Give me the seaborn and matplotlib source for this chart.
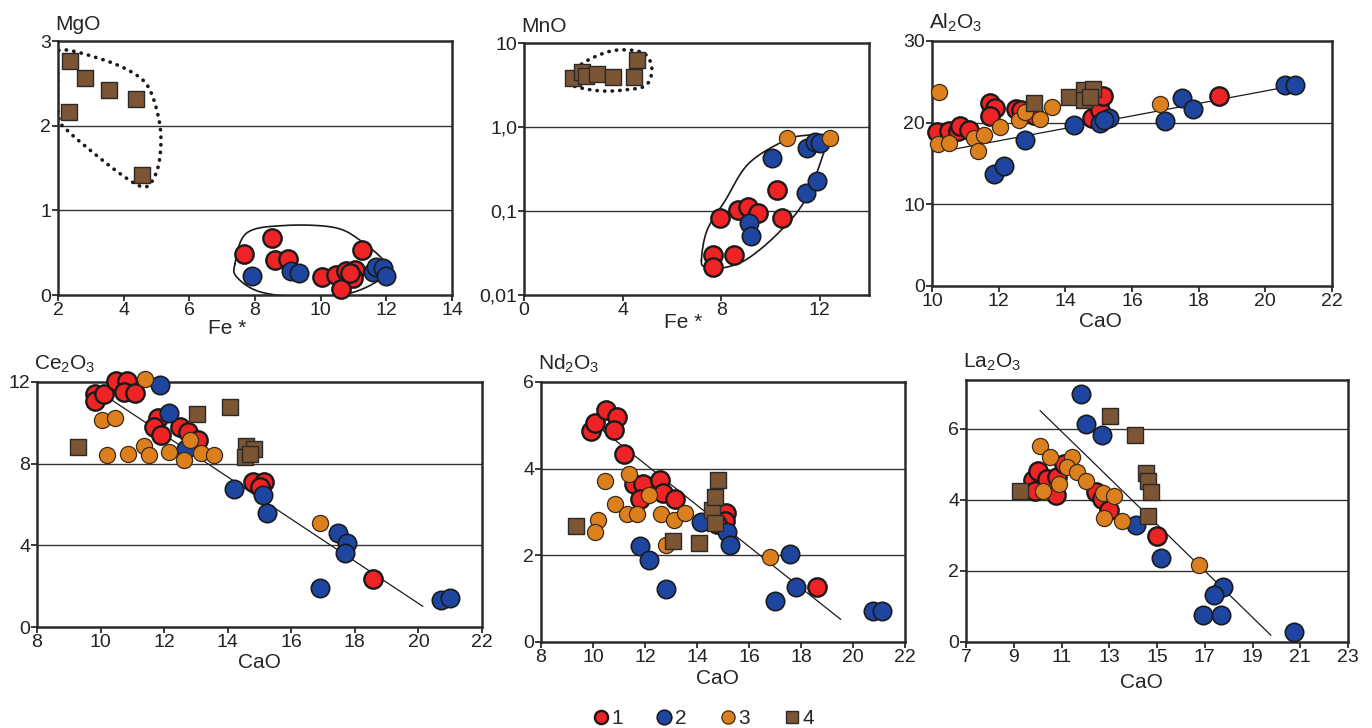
import numpy as np
import pandas as pd
import matplotlib
matplotlib.use('Agg')
import matplotlib.pyplot as plt
from matplotlib.lines import Line2D
from matplotlib.ticker import NullLocator
import seaborn as sns

# ---- data: (x, y) per group ----
# MgO vs Fe*
mgo_g1 = [(7.67, 0.48), (8.51, 0.67), (8.61, 0.41), (9.01, 0.43), (10.03, 0.21), (10.46, 0.24),
          (10.78, 0.28), (11.04, 0.30), (11.0, 0.20), (10.63, 0.07), (11.26, 0.53), (10.9, 0.26)]
mgo_g2 = [(7.9, 0.23), (9.1, 0.28), (9.33, 0.26), (11.58, 0.27), (11.7, 0.33), (11.9, 0.32), (11.98, 0.23)]
mgo_g3 = []
mgo_g4 = [(2.36, 2.76), (2.82, 2.56), (3.56, 2.42), (4.38, 2.32), (2.32, 2.16), (4.55, 1.42)]
mgo_env_dot = [(2.02, 2.89), (3.29, 2.79), (4.3, 2.62), (4.8, 2.42), (5.11, 1.99), (5.09, 1.59), (4.86, 1.34),
               (4.55, 1.28), (3.9, 1.43), (2.98, 1.71), (2.27, 1.95), (2.02, 2.1), (2.0, 2.6)]
mgo_env_solid = [(7.39, 0.37), (7.74, 0.73), (8.86, 0.82), (10.38, 0.80), (11.19, 0.65), (12.0, 0.37),
                 (11.9, 0.21), (10.88, 0.02), (9.37, -0.02), (8.13, 0.04), (7.45, 0.21)]

# MnO vs Fe* (log)
mno_g1 = [(7.97, 0.083), (7.66, 0.030), (7.66, 0.0215), (8.51, 0.030), (8.68, 0.104), (9.11, 0.112),
          (9.48, 0.095), (10.26, 0.176), (10.46, 0.083)]
mno_g2 = [(9.14, 0.072), (9.22, 0.050), (10.08, 0.43), (11.44, 0.166), (11.91, 0.225), (11.5, 0.57),
          (11.8, 0.66), (12.0, 0.64)]
mno_g3 = [(10.66, 0.746), (12.4, 0.746)]
mno_g4 = [(1.99, 3.87), (2.37, 4.5), (2.5, 4.0), (2.97, 4.3), (3.6, 3.9), (4.48, 3.9), (4.58, 6.3)]
mno_env_dot = [(1.79, 3.43), (2.26, 5.4), (3.2, 7.5), (4.0, 8.3), (4.88, 7.5), (5.19, 4.95), (4.95, 3.13),
               (4.14, 2.78), (3.2, 2.68), (2.26, 2.94)]
mno_env_solid = [(7.2, 0.026), (7.43, 0.059), (8.17, 0.134), (9.11, 0.366), (10.59, 0.69), (11.53, 0.80),
                 (12.27, 0.76), (12.2, 0.53), (11.4, 0.134), (10.3, 0.054), (8.98, 0.026), (7.9, 0.0206),
                 (7.36, 0.0215)]

# Al2O3 vs CaO
al_g1 = [(10.15, 18.87), (10.5, 18.96), (10.77, 18.96), (10.85, 19.6), (11.1, 19.08), (11.75, 22.46),
         (11.9, 21.85), (11.73, 20.79), (12.52, 21.73), (12.67, 21.6), (13.0, 21.2), (13.05, 20.9),
         (14.8, 20.63), (15.05, 21.5), (15.13, 23.24), (18.6, 23.24)]
al_g2 = [(11.85, 13.7), (12.15, 14.72), (12.8, 17.86), (14.25, 19.77), (15.05, 20.0), (15.3, 20.63),
         (15.15, 20.3), (16.98, 20.18), (17.5, 23.03), (17.82, 21.73), (20.6, 24.58), (20.88, 24.66)]
al_g3 = [(10.2, 23.77), (10.17, 17.33), (10.5, 17.57), (11.27, 18.18), (11.55, 18.47), (11.38, 16.55),
         (12.05, 19.49), (12.6, 20.3), (12.8, 21.32), (13.23, 20.5), (13.6, 21.93), (16.83, 22.26)]
al_g4 = [(13.07, 22.42), (14.1, 23.15), (14.55, 23.97), (14.82, 24.09), (14.57, 22.83), (14.73, 23.15)]
al_trend = [(10.6, 16.71), (20.55, 24.3)]

# Ce2O3 vs CaO
ce_g1 = [(9.81, 11.43), (9.83, 11.07), (10.12, 11.43), (10.5, 12.03), (10.83, 12.05), (10.74, 11.51),
         (11.09, 11.46), (11.8, 10.24), (11.67, 9.8), (11.91, 9.39), (12.49, 9.8), (12.75, 9.55),
         (13.05, 9.14), (14.8, 7.1), (15.13, 7.1), (15.03, 6.86), (18.56, 2.33)]
ce_g2 = [(11.88, 11.84), (12.14, 10.48), (12.69, 8.73), (14.21, 6.78), (15.11, 6.48), (15.24, 5.58),
         (17.47, 4.62), (17.75, 4.11), (17.7, 3.62), (16.91, 1.93), (20.71, 1.31), (21.0, 1.42)]
ce_g3 = [(11.39, 12.16), (10.04, 10.16), (10.44, 10.24), (10.2, 8.41), (10.86, 8.49), (11.36, 8.87),
         (11.51, 8.41), (12.14, 8.57), (12.64, 8.2), (12.8, 9.18), (13.17, 8.52), (13.58, 8.41), (16.89, 5.09)]
ce_g4 = [(9.28, 8.82), (13.03, 10.42), (14.08, 10.78), (14.59, 8.85), (14.82, 8.73), (14.55, 8.33), (14.69, 8.49)]
ce_trend = [(10.29, 11.18), (20.14, 1.01)]

# Nd2O3 vs CaO
nd_g1 = [(9.93, 4.87), (10.09, 5.05), (10.51, 5.35), (10.92, 5.19), (10.79, 4.9), (11.18, 4.33),
         (11.59, 3.65), (11.92, 3.64), (11.79, 3.29), (12.59, 3.73), (12.69, 3.45), (13.14, 3.29),
         (15.12, 2.98), (15.08, 2.79), (14.76, 2.73), (18.63, 1.28)]
nd_g2 = [(11.82, 2.22), (12.14, 1.9), (12.8, 1.22), (14.15, 2.78), (15.17, 2.55), (15.28, 2.25),
         (17.56, 2.04), (17.0, 0.95), (17.81, 1.27), (20.76, 0.71), (21.1, 0.71)]
nd_g3 = [(10.47, 3.72), (11.39, 3.87), (12.16, 3.4), (10.86, 3.18), (11.3, 2.95), (11.69, 2.96),
         (12.61, 2.96), (13.1, 2.81), (13.55, 2.98), (10.19, 2.82), (10.09, 2.55), (12.8, 2.25), (16.81, 1.96)]
nd_g4 = [(9.36, 2.67), (13.07, 2.32), (14.08, 2.29), (14.57, 3.05), (14.7, 3.35), (14.8, 3.75), (14.7, 2.75)]
nd_trend = [(10.34, 4.9), (19.53, 0.52)]

# La2O3 vs CaO
la_g1 = [(9.79, 4.56), (10.0, 4.81), (9.89, 4.25), (10.38, 4.58), (10.8, 4.63), (10.76, 4.14),
         (11.11, 5.0), (12.44, 4.21), (12.69, 4.02), (13.0, 3.71), (15.02, 2.99)]
la_g2 = [(11.81, 6.98), (12.02, 6.12), (12.7, 5.81), (14.11, 3.29), (15.16, 2.36), (17.75, 1.54),
         (17.37, 1.31), (16.91, 0.75), (17.68, 0.75), (20.75, 0.27)]
la_g3 = [(10.1, 5.51), (10.52, 5.21), (11.43, 5.19), (11.22, 4.91), (11.64, 4.79), (12.02, 4.53),
         (10.9, 4.44), (10.24, 4.25), (12.73, 4.19), (13.2, 4.11), (12.76, 3.5), (13.53, 3.41), (16.74, 2.17)]
la_g4 = [(13.04, 6.36), (14.06, 5.82), (14.53, 4.75), (14.62, 4.53), (14.74, 4.22), (14.62, 3.55), (9.26, 4.25)]
la_trend = [(10.1, 6.51), (19.77, 0.19)]

group_names = ['1', '2', '3', '4']
group_colors = ['#ee2326', '#1e46a0', '#dc7f1e', '#7c5535']
group_markers = ['o', 'o', 'o', 's']
group_sizes = [175, 175, 135, 125]
group_lw = [1.7, 1.2, 0.9, 1.0]
group_edge = ['#1a1a1a', '#1a1a1a', '#3a2a18', '#2a2a2a']


def closed_curve(pts, logy=False, k=24):
    p = np.array(pts, dtype=float)
    if logy:
        p[:, 1] = np.log10(p[:, 1])
    n = len(p)
    t = np.linspace(0, 1, k, endpoint=False)[:, None]
    out = []
    for i in range(n):
        p0, p1, p2, p3 = p[i - 1], p[i], p[(i + 1) % n], p[(i + 2) % n]
        out.append(0.5 * (2 * p1 + (-p0 + p2) * t + (2 * p0 - 5 * p1 + 4 * p2 - p3) * t ** 2
                          + (-p0 + 3 * p1 - 3 * p2 + p3) * t ** 3))
    out = np.vstack(out + [p[:1]])
    if logy:
        out[:, 1] = 10 ** out[:, 1]
    return out[:, 0], out[:, 1]


def draw_panel(ax, groups, xlim, ylim, xticks, yticks, grid, ylab, xlab, xlab_pos,
               ylabels=None, log=False):
    if log:
        ax.set_yscale('log')
    for y in grid:
        ax.axhline(y, color='#333333', lw=1.0, zorder=1)
    for i, pts in enumerate(groups):
        if not pts:
            continue
        df = pd.DataFrame(pts, columns=['x', 'y'])
        df['group'] = group_names[i]
        sns.scatterplot(data=df, x='x', y='y', ax=ax, color=group_colors[i], marker=group_markers[i],
                        s=group_sizes[i], edgecolor=group_edge[i], linewidth=group_lw[i],
                        legend=False, zorder=3 + i, clip_on=False)
    ax.set_xlim(*xlim)
    ax.set_ylim(*ylim)
    ax.set_xticks(xticks)
    ax.set_yticks(yticks)
    if log:
        ax.yaxis.set_minor_locator(NullLocator())
    if ylabels is not None:
        ax.set_yticklabels(ylabels)
    ax.set_xlabel(xlab, fontsize=15)
    ax.xaxis.label.set_va('center')
    # label position: (x fraction of axes, pixels below the axes)
    h_px = ax.get_position().height * H
    ax.xaxis.set_label_coords(xlab_pos[0], -xlab_pos[1] / h_px)
    ax.set_ylabel('')
    ax.annotate(ylab, xy=(0, 1), xycoords='axes fraction', xytext=(-2, 5), textcoords='offset points',
                ha='left', va='bottom', fontsize=15)
    for s in ax.spines.values():
        s.set_visible(True)
        s.set_color('#2a2a2a')
        s.set_linewidth(1.8)
    ax.tick_params(direction='out', length=4, width=1.3, labelsize=14, pad=1,
                   top=False, right=False, colors='#2a2a2a', labelcolor='#222222')


sns.set_style('ticks')
plt.rcParams['font.family'] = ['Liberation Sans', 'DejaVu Sans']
plt.rcParams['mathtext.fontset'] = 'custom'
plt.rcParams['mathtext.rm'] = 'Liberation Sans'
plt.rcParams['mathtext.it'] = 'Liberation Sans:italic'
plt.rcParams['mathtext.default'] = 'regular'

W, H = 1372, 728
fig = plt.figure(figsize=(W / 100, H / 100), dpi=100)


def px_axes(l, r, t, b):
    return fig.add_axes([l / W, 1 - b / H, (r - l) / W, (b - t) / H])


ax1 = px_axes(58, 452, 41, 295)
ax2 = px_axes(524, 869, 43, 295)
ax3 = px_axes(932, 1332, 41, 286)
ax4 = px_axes(37, 482, 382, 627)
ax5 = px_axes(541, 905, 382, 642)
ax6 = px_axes(966, 1348, 380, 642)

# MgO
draw_panel(ax1, [mgo_g1, mgo_g2, mgo_g3, mgo_g4], (2, 14), (0, 3), range(2, 15, 2), [0, 1, 2, 3],
           [1, 2], 'MgO', 'Fe *', (0.43, 33))
ex, ey = closed_curve(mgo_env_dot)
ax1.plot(ex, ey, color='#1a1a1a', lw=2.6, linestyle=(0, (0.1, 2.0)), dash_capstyle='round', zorder=2)
ex, ey = closed_curve(mgo_env_solid)
ax1.plot(ex, ey, color='#1a1a1a', lw=1.2, zorder=2)

# MnO
draw_panel(ax2, [mno_g1, mno_g2, mno_g3, mno_g4], (0, 14), (0.01, 10), [0, 4, 8, 12], [0.01, 0.1, 1, 10],
           [0.1, 1], 'MnO', 'Fe *', (0.46, 28), ylabels=['0,01', '0,1', '1,0', '10'], log=True)
ex, ey = closed_curve(mno_env_dot, logy=True)
ax2.plot(ex, ey, color='#1a1a1a', lw=2.6, linestyle=(0, (0.1, 2.0)), dash_capstyle='round', zorder=2)
ex, ey = closed_curve(mno_env_solid, logy=True)
ax2.plot(ex, ey, color='#1a1a1a', lw=1.2, zorder=2)

# Al2O3
draw_panel(ax3, [al_g1, al_g2, al_g3, al_g4], (10, 22), (0, 30), range(10, 23, 2), [0, 10, 20, 30],
           [10, 20], r'Al$_2$O$_3$', 'CaO', (0.42, 36))
ax3.plot(*zip(*al_trend), color='#1a1a1a', lw=0.9, zorder=2)

# Ce2O3
draw_panel(ax4, [ce_g1, ce_g2, ce_g3, ce_g4], (8, 22), (0, 12), range(8, 23, 2), [0, 4, 8, 12],
           [4, 8], r'Ce$_2$O$_3$', 'CaO', (0.50, 35))
ax4.plot(*zip(*ce_trend), color='#1a1a1a', lw=0.9, zorder=2)

# Nd2O3
draw_panel(ax5, [nd_g1, nd_g2, nd_g3, nd_g4], (8, 22), (0, 6), range(8, 23, 2), [0, 2, 4, 6],
           [2, 4], r'Nd$_2$O$_3$', 'CaO', (0.486, 37))
ax5.plot(*zip(*nd_trend), color='#1a1a1a', lw=0.9, zorder=2)

# La2O3
draw_panel(ax6, [la_g1, la_g2, la_g3, la_g4], (7, 23), (0, 7.37), range(7, 24, 2), [0, 2, 4, 6],
           [2, 4, 6], r'La$_2$O$_3$', 'CaO', (0.46, 40))
ax6.plot(*zip(*la_trend), color='#1a1a1a', lw=0.9, zorder=2)

legend_ms = [9.5, 10.5, 9.5, 8]
handles = [Line2D([], [], linestyle='none', marker=group_markers[i], color=group_colors[i],
                  markeredgecolor=group_edge[i], markeredgewidth=group_lw[i], markersize=legend_ms[i])
           for i in range(4)]
fig.legend(handles, group_names, loc='center', bbox_to_anchor=(702 / W, 1 - 719 / H), ncol=4, frameon=False,
           handletextpad=0.0, columnspacing=1.5, fontsize=15, handlelength=1.0)

fig.savefig('out.png', dpi=100)
